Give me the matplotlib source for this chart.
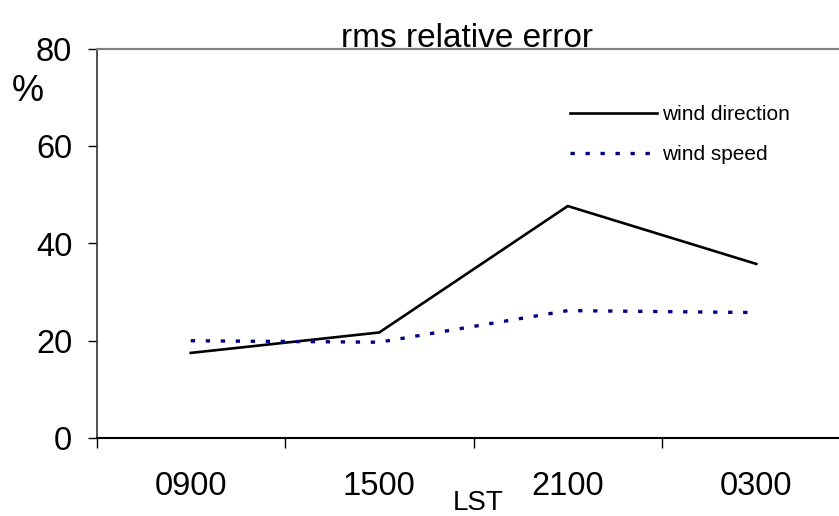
import numpy as np
import matplotlib.pyplot as plt
from matplotlib.ticker import FixedLocator

plt.rcParams['font.family'] = ['Liberation Sans', 'DejaVu Sans']

# datos
horas = ["0900", "1500", "2100", "0300"]
wind_direction = [17.5, 21.7, 47.7, 35.8]
wind_speed = [20.0, 19.7, 26.2, 25.8]

fig = plt.figure(figsize=(8.39, 5.16), dpi=100)
ax = fig.add_axes([96.5/839, 78/516, 754/839, 389/516])

x = np.arange(len(horas))
ax.plot(x, wind_direction, color='black', lw=1.9, label='wind direction')
ax.plot(x, wind_speed, color='#000080', lw=2.4, dashes=(1.3, 3.2), label='wind speed')

ax.set_xlim(-0.5, len(horas) - 0.5)
ax.set_ylim(0, 80)
ax.set_yticks([0, 20, 40, 60, 80])
ax.set_xticks(x)
ax.set_xticklabels(horas)
ax.xaxis.set_minor_locator(FixedLocator(np.arange(-0.5, len(horas), 1.0)))
ax.tick_params(axis='x', which='major', length=0, pad=24, labelsize=23.5)
ax.tick_params(axis='x', which='minor', length=7.2, width=1, direction='out')
ax.tick_params(axis='y', length=6.5, width=1, pad=11, labelsize=23.5)

ax.spines['right'].set_visible(False)
ax.spines['top'].set_color('#808080')
ax.spines['top'].set_linewidth(1.6)
ax.spines['left'].set_color('#333333')
ax.spines['left'].set_linewidth(1.2)
ax.spines['bottom'].set_color('black')
ax.spines['bottom'].set_linewidth(1.5)

fig.text(467/839, 1 - 46.7/516, "rms relative error", ha='center', va='baseline', fontsize=24)
fig.text(27.5/839, 1 - 91.5/516, "%", ha='center', va='center', fontsize=26)
fig.text(478/839, 0.0, "LST", ha='center', va='bottom', fontsize=20)

ax.legend(loc='upper left', bbox_to_anchor=(570/839, 1 - 105/516),
          bbox_transform=fig.transFigure, frameon=False, fontsize=15,
          handlelength=4.18, handletextpad=0.24, labelspacing=1.03,
          borderpad=0, borderaxespad=0)

plt.savefig('out.png', dpi=100)
